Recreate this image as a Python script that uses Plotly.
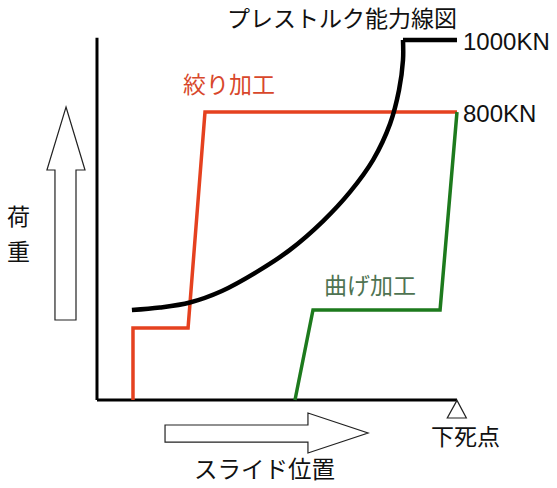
import plotly.graph_objects as go

# Coordonnées : position du coulisseau (0 = début, 100 = point mort bas), charge en kN
# capacité de la presse (courbe noire)
capacite_x = [9.7, 17.5, 25.8, 34.7, 44.4, 53.6, 62.8, 70.3, 76.7, 81.4, 83.9, 85, 85]
capacite_y = [250, 257, 271, 303, 356, 417, 497, 578, 667, 767, 861, 944, 1000]
plateau_x = [85, 100]
plateau_y = [1000, 1000]

# emboutissage (絞り加工)
shibori_x = [10, 10, 25.3, 30, 100]
shibori_y = [0, 200, 200, 800, 800]

# pliage (曲げ加工)
mage_x = [55, 60, 95.3, 100]
mage_y = [0, 250, 250, 800]

# axes
axe_x = [0, 100]
axe_y = [0, 1006]

ROUGE = "#e5411f"
VERT = "#1d7a1d"
JP = "Noto Sans CJK JP"
LAT = "Liberation Sans, Arial"

fig = go.Figure()
fig.add_trace(go.Scatter(x=[0, 0], y=axe_y, mode="lines",
                         line=dict(color="black", width=3)))
fig.add_trace(go.Scatter(x=axe_x, y=[0, 0], mode="lines",
                         line=dict(color="black", width=3)))
fig.add_trace(go.Scatter(x=shibori_x, y=shibori_y, mode="lines",
                         line=dict(color=ROUGE, width=3.5)))
fig.add_trace(go.Scatter(x=mage_x, y=mage_y, mode="lines",
                         line=dict(color=VERT, width=3.5)))
fig.add_trace(go.Scatter(x=capacite_x, y=capacite_y, mode="lines",
                         line=dict(color="black", width=4.5, shape="spline", smoothing=1.0)))
fig.add_trace(go.Scatter(x=plateau_x, y=plateau_y, mode="lines",
                         line=dict(color="black", width=4.5)))

# flèches creuses et triangle du point mort bas
fleche_haut = "M -8.6 813.9 L -3.33 638.9 L -5.83 638.9 L -5.83 222.2 L -11.67 222.2 L -11.67 638.9 L -13.9 638.9 Z"
fleche_droite = "M 18.9 -69.4 L 58.6 -69.4 L 58.6 -36.1 L 75.3 -91.7 L 58.6 -147.2 L 58.6 -116.7 L 18.9 -116.7 Z"
triangle = "M 100 -1 L 102.6 -50 L 97.3 -50 Z"
for p in [fleche_haut, fleche_droite, triangle]:
    fig.add_shape(type="path", path=p, xref="x", yref="y",
                  line=dict(color="#222", width=1.2), fillcolor="white")

def texte(t, x, y, size=23, color="#111", font=JP, xanchor="center"):
    fig.add_annotation(text=t, x=x, y=y, xref="x", yref="y", showarrow=False,
                       xanchor=xanchor, yanchor="middle", borderpad=0,
                       font=dict(family=font, size=size, color=color))

texte("プレストルク能力線図", 68.1, 1064)
texte("1000KN", 101.5, 995, size=24, font=LAT, xanchor="left")
texte("800KN", 101.5, 797, size=24, font=LAT, xanchor="left")
texte("絞り加工", 36.7, 880, color="#d8472b")
texte("曲げ加工", 75.8, 322, color="#4f7352")
texte("荷", -21.9, 514)
texte("重", -21.9, 417)
texte("下死点", 102.5, -97)
texte("スライド位置", 46.4, -190, size=23.5)

fig.update_layout(
    width=557, height=488,
    margin=dict(l=0, r=0, t=0, b=0),
    paper_bgcolor="white", plot_bgcolor="white",
    showlegend=False,
    xaxis=dict(range=[-26.94, 127.78], visible=False, fixedrange=True),
    yaxis=dict(range=[-244.4, 1111.1], visible=False, fixedrange=True),
)

# supprime la marge par défaut de la page pour que la figure remplisse la fenêtre
fig.write_html("out.html", config={"displayModeBar": False},
               post_script="document.body.style.margin='0';document.body.style.overflow='hidden';")
